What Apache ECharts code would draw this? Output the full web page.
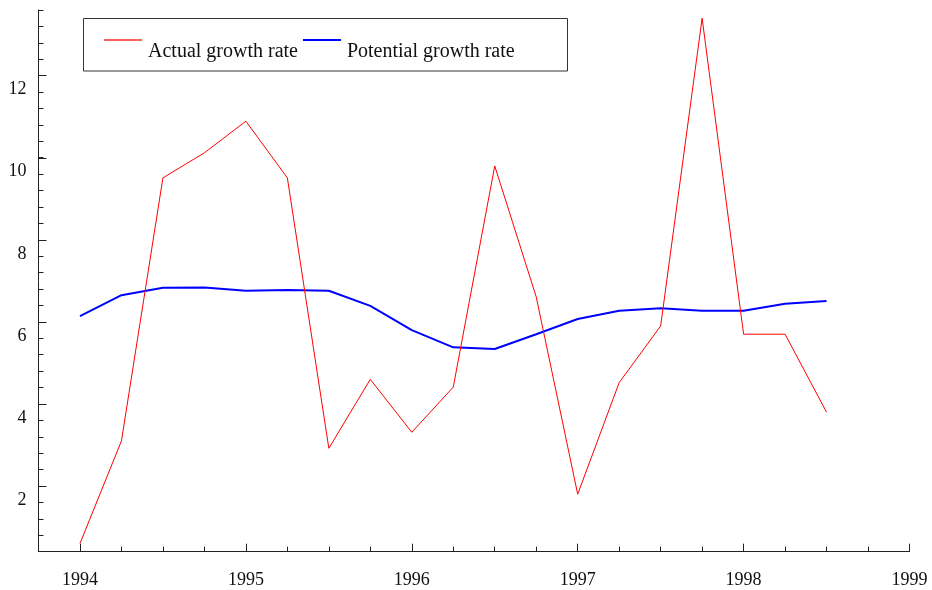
<!DOCTYPE html>
<html>
<head>
<meta charset="utf-8">
<script src="https://cdn.jsdelivr.net/npm/echarts@6/dist/echarts.min.js"></script>
<style>
  html, body { margin: 0; padding: 0; background: #fff; }
  #chart { width: 932px; height: 590px; }
</style>
</head>
<body>
<div id="chart"></div>
<script>
// quarterly observations, 1994Q1 .. 1998Q3
var quarters = [1994, 1994.25, 1994.5, 1994.75, 1995, 1995.25, 1995.5, 1995.75,
  1996, 1996.25, 1996.5, 1996.75, 1997, 1997.25, 1997.5, 1997.75, 1998, 1998.25, 1998.5]
var actualGrowth = [0.60, 3.10, 9.51, 10.12, 10.89, 9.51, 2.92, 4.60,
  3.31, 4.41, 9.80, 6.61, 1.80, 4.52, 5.90, 13.40, 5.70, 5.70, 3.80]
var potentialGrowth = [6.14, 6.65, 6.83, 6.84, 6.76, 6.78, 6.76, 6.39,
  5.80, 5.38, 5.34, 5.70, 6.07, 6.27, 6.33, 6.27, 6.27, 6.44, 6.51]
var seriesNames = ['Actual growth rate', 'Potential growth rate']

function pairs (xs, ys) {
  return xs.map(function (x, i) { return [x, ys[i]] })
}

var myChart = echarts.init(document.getElementById('chart'), null, { renderer: 'canvas' })
var font = 'Liberation Serif'
var axisColor = '#222'

var option = {
  backgroundColor: '#fff',
  animation: false,
  textStyle: { fontFamily: font },
  // grid 0 carries the data and the minor ticks, grid 1 only the labelled major ticks
  grid: [
    { left: 38.5, right: 22.5, top: 10, bottom: 38.3 },
    { left: 80, right: 22.5, top: 75.7, bottom: 104 }
  ],
  graphic: [{
    type: 'rect',
    shape: { x: 83.5, y: 18.5, width: 484, height: 52.5 },
    style: { fill: '#fff', stroke: '#333', lineWidth: 1 },
    z: 90
  }],
  legend: {
    z: 100,
    left: 99,
    top: 13,
    itemWidth: 38,
    itemHeight: 2,
    itemGap: 5,
    data: [
      { name: seriesNames[0], icon: 'rect', itemStyle: { color: '#ff6060' } },
      { name: seriesNames[1], icon: 'rect', itemStyle: { color: '#0000ff' } }
    ],
    formatter: '{t|{name}}',
    textStyle: {
      fontFamily: font,
      fontSize: 20,
      color: '#111',
      rich: {
        t: { fontFamily: font, fontSize: 20, color: '#111', lineHeight: 20, padding: [24, 0, 0, 1] }
      }
    }
  },
  xAxis: [
    {
      gridIndex: 0, type: 'value', min: 1993.75, max: 1999, interval: 0.25,
      axisLine: { lineStyle: { color: axisColor, width: 1 } },
      axisTick: { inside: true, length: 5, lineStyle: { color: axisColor } },
      axisLabel: { show: false },
      splitLine: { show: false }
    },
    {
      gridIndex: 1, type: 'value', min: 1994, max: 1999, interval: 1, offset: 65.7,
      axisLine: { show: false },
      axisTick: { inside: true, length: 8, lineStyle: { color: axisColor } },
      axisLabel: {
        margin: 20, fontFamily: font, fontSize: 18, color: '#111',
        formatter: function (v) { return String(Math.round(v)) }
      },
      splitLine: { show: false }
    }
  ],
  yAxis: [
    {
      gridIndex: 0, type: 'value', min: 0.4, max: 13.6, interval: 0.4,
      axisLine: { show: true, lineStyle: { color: axisColor, width: 1 } },
      axisTick: { show: true, inside: true, length: 5, lineStyle: { color: axisColor } },
      axisLabel: { show: false },
      splitLine: { show: false }
    },
    {
      gridIndex: 1, type: 'value', min: 2, max: 12, interval: 2, offset: 41.5,
      axisLine: { show: false },
      axisTick: { show: true, inside: true, length: 8, lineStyle: { color: axisColor } },
      axisLabel: {
        margin: 12, fontFamily: font, fontSize: 18, color: '#111',
        verticalAlign: 'top', padding: [5, 0, 0, 0]
      },
      splitLine: { show: false }
    }
  ],
  series: [
    {
      name: seriesNames[0],
      type: 'line',
      xAxisIndex: 0, yAxisIndex: 0,
      data: pairs(quarters, actualGrowth),
      symbol: 'none',
      lineStyle: { color: '#ff0000', width: 1 },
      itemStyle: { color: '#ff0000' },
      z: 3
    },
    {
      name: seriesNames[1],
      type: 'line',
      xAxisIndex: 0, yAxisIndex: 0,
      data: pairs(quarters, potentialGrowth),
      symbol: 'none',
      lineStyle: { color: '#0000ff', width: 2 },
      itemStyle: { color: '#0000ff' },
      z: 2
    }
  ]
}
myChart.setOption(option)
</script>
</body>
</html>
